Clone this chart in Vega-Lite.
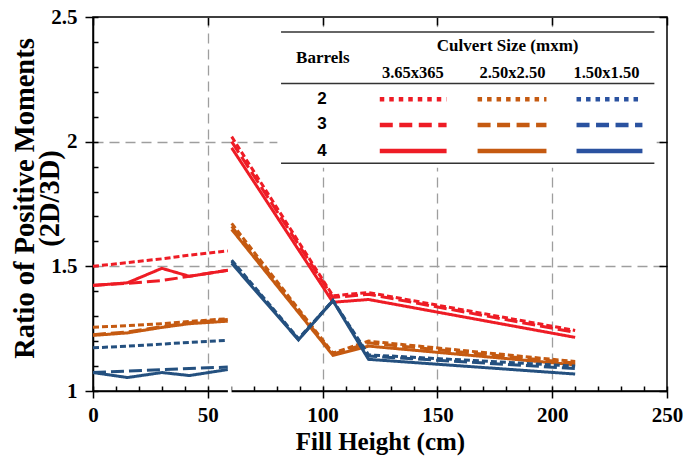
{
  "$schema": "https://vega.github.io/schema/vega-lite/v6.json",
  "width": 574,
  "height": 374,
  "autosize": {"type": "none"},
  "padding": {"left": 93, "top": 17, "right": 16, "bottom": 70},
  "background": "white",
  "config": {
    "view": {"stroke": "#000", "strokeWidth": 1.5},
    "axis": {
      "domainColor": "#000", "domainWidth": 1.5, "tickColor": "#000", "tickWidth": 1.5,
      "labelFont": "Liberation Serif", "labelFontWeight": "bold", "labelFontSize": 21, "labelColor": "#000",
      "titleFont": "Liberation Serif", "titleFontWeight": "bold", "titleColor": "#000",
      "labelFlush": false, "labelOverlap": false, "grid": false
    }
  },
  "datasets": {
    "series": [
      {"size": "3.65x365", "barrels": "2", "seg": "L", "fill_height": 0, "ratio": 1.50},
      {"size": "3.65x365", "barrels": "2", "seg": "L", "fill_height": 15, "ratio": 1.515},
      {"size": "3.65x365", "barrels": "2", "seg": "L", "fill_height": 30, "ratio": 1.53},
      {"size": "3.65x365", "barrels": "2", "seg": "L", "fill_height": 42, "ratio": 1.545},
      {"size": "3.65x365", "barrels": "2", "seg": "L", "fill_height": 58.7, "ratio": 1.562},
      {"size": "3.65x365", "barrels": "2", "seg": "R", "fill_height": 60.4, "ratio": 2.02},
      {"size": "3.65x365", "barrels": "2", "seg": "R", "fill_height": 104.5, "ratio": 1.382},
      {"size": "3.65x365", "barrels": "2", "seg": "R", "fill_height": 120, "ratio": 1.395},
      {"size": "3.65x365", "barrels": "2", "seg": "R", "fill_height": 210, "ratio": 1.243},
      {"size": "3.65x365", "barrels": "3", "seg": "L", "fill_height": 0, "ratio": 1.424},
      {"size": "3.65x365", "barrels": "3", "seg": "L", "fill_height": 15, "ratio": 1.432},
      {"size": "3.65x365", "barrels": "3", "seg": "L", "fill_height": 30, "ratio": 1.443},
      {"size": "3.65x365", "barrels": "3", "seg": "L", "fill_height": 42, "ratio": 1.46},
      {"size": "3.65x365", "barrels": "3", "seg": "L", "fill_height": 58.7, "ratio": 1.484},
      {"size": "3.65x365", "barrels": "3", "seg": "R", "fill_height": 60.4, "ratio": 2.0},
      {"size": "3.65x365", "barrels": "3", "seg": "R", "fill_height": 104.5, "ratio": 1.375},
      {"size": "3.65x365", "barrels": "3", "seg": "R", "fill_height": 120, "ratio": 1.388},
      {"size": "3.65x365", "barrels": "3", "seg": "R", "fill_height": 210, "ratio": 1.235},
      {"size": "3.65x365", "barrels": "4", "seg": "L", "fill_height": 0, "ratio": 1.423},
      {"size": "3.65x365", "barrels": "4", "seg": "L", "fill_height": 15, "ratio": 1.434},
      {"size": "3.65x365", "barrels": "4", "seg": "L", "fill_height": 30, "ratio": 1.492},
      {"size": "3.65x365", "barrels": "4", "seg": "L", "fill_height": 42, "ratio": 1.46},
      {"size": "3.65x365", "barrels": "4", "seg": "L", "fill_height": 58.7, "ratio": 1.484},
      {"size": "3.65x365", "barrels": "4", "seg": "R", "fill_height": 60.4, "ratio": 1.975},
      {"size": "3.65x365", "barrels": "4", "seg": "R", "fill_height": 104.5, "ratio": 1.356},
      {"size": "3.65x365", "barrels": "4", "seg": "R", "fill_height": 120, "ratio": 1.367},
      {"size": "3.65x365", "barrels": "4", "seg": "R", "fill_height": 210, "ratio": 1.215},
      {"size": "2.50x2.50", "barrels": "2", "seg": "L", "fill_height": 0, "ratio": 1.256},
      {"size": "2.50x2.50", "barrels": "2", "seg": "L", "fill_height": 15, "ratio": 1.262},
      {"size": "2.50x2.50", "barrels": "2", "seg": "L", "fill_height": 30, "ratio": 1.27},
      {"size": "2.50x2.50", "barrels": "2", "seg": "L", "fill_height": 42, "ratio": 1.279},
      {"size": "2.50x2.50", "barrels": "2", "seg": "L", "fill_height": 58.7, "ratio": 1.29},
      {"size": "2.50x2.50", "barrels": "2", "seg": "R", "fill_height": 60.4, "ratio": 1.672},
      {"size": "2.50x2.50", "barrels": "2", "seg": "R", "fill_height": 104.5, "ratio": 1.152},
      {"size": "2.50x2.50", "barrels": "2", "seg": "R", "fill_height": 120, "ratio": 1.2},
      {"size": "2.50x2.50", "barrels": "2", "seg": "R", "fill_height": 210, "ratio": 1.118},
      {"size": "2.50x2.50", "barrels": "3", "seg": "L", "fill_height": 0, "ratio": 1.226},
      {"size": "2.50x2.50", "barrels": "3", "seg": "L", "fill_height": 15, "ratio": 1.237},
      {"size": "2.50x2.50", "barrels": "3", "seg": "L", "fill_height": 30, "ratio": 1.258},
      {"size": "2.50x2.50", "barrels": "3", "seg": "L", "fill_height": 42, "ratio": 1.274},
      {"size": "2.50x2.50", "barrels": "3", "seg": "L", "fill_height": 58.7, "ratio": 1.287},
      {"size": "2.50x2.50", "barrels": "3", "seg": "R", "fill_height": 60.4, "ratio": 1.66},
      {"size": "2.50x2.50", "barrels": "3", "seg": "R", "fill_height": 104.5, "ratio": 1.148},
      {"size": "2.50x2.50", "barrels": "3", "seg": "R", "fill_height": 120, "ratio": 1.193},
      {"size": "2.50x2.50", "barrels": "3", "seg": "R", "fill_height": 210, "ratio": 1.112},
      {"size": "2.50x2.50", "barrels": "4", "seg": "L", "fill_height": 0, "ratio": 1.223},
      {"size": "2.50x2.50", "barrels": "4", "seg": "L", "fill_height": 15, "ratio": 1.233},
      {"size": "2.50x2.50", "barrels": "4", "seg": "L", "fill_height": 30, "ratio": 1.255},
      {"size": "2.50x2.50", "barrels": "4", "seg": "L", "fill_height": 42, "ratio": 1.27},
      {"size": "2.50x2.50", "barrels": "4", "seg": "L", "fill_height": 58.7, "ratio": 1.28},
      {"size": "2.50x2.50", "barrels": "4", "seg": "R", "fill_height": 60.4, "ratio": 1.648},
      {"size": "2.50x2.50", "barrels": "4", "seg": "R", "fill_height": 104.5, "ratio": 1.143},
      {"size": "2.50x2.50", "barrels": "4", "seg": "R", "fill_height": 120, "ratio": 1.18},
      {"size": "2.50x2.50", "barrels": "4", "seg": "R", "fill_height": 210, "ratio": 1.105},
      {"size": "1.50x1.50", "barrels": "2", "seg": "L", "fill_height": 0, "ratio": 1.173},
      {"size": "1.50x1.50", "barrels": "2", "seg": "L", "fill_height": 15, "ratio": 1.18},
      {"size": "1.50x1.50", "barrels": "2", "seg": "L", "fill_height": 30, "ratio": 1.188},
      {"size": "1.50x1.50", "barrels": "2", "seg": "L", "fill_height": 42, "ratio": 1.195},
      {"size": "1.50x1.50", "barrels": "2", "seg": "L", "fill_height": 58.7, "ratio": 1.203},
      {"size": "1.50x1.50", "barrels": "2", "seg": "R", "fill_height": 60.4, "ratio": 1.525},
      {"size": "1.50x1.50", "barrels": "2", "seg": "R", "fill_height": 89.5, "ratio": 1.21},
      {"size": "1.50x1.50", "barrels": "2", "seg": "R", "fill_height": 104.5, "ratio": 1.363},
      {"size": "1.50x1.50", "barrels": "2", "seg": "R", "fill_height": 120, "ratio": 1.145},
      {"size": "1.50x1.50", "barrels": "2", "seg": "R", "fill_height": 210, "ratio": 1.1},
      {"size": "1.50x1.50", "barrels": "3", "seg": "L", "fill_height": 0, "ratio": 1.074},
      {"size": "1.50x1.50", "barrels": "3", "seg": "L", "fill_height": 15, "ratio": 1.08},
      {"size": "1.50x1.50", "barrels": "3", "seg": "L", "fill_height": 30, "ratio": 1.086},
      {"size": "1.50x1.50", "barrels": "3", "seg": "L", "fill_height": 42, "ratio": 1.09},
      {"size": "1.50x1.50", "barrels": "3", "seg": "L", "fill_height": 58.7, "ratio": 1.096},
      {"size": "1.50x1.50", "barrels": "3", "seg": "R", "fill_height": 60.4, "ratio": 1.52},
      {"size": "1.50x1.50", "barrels": "3", "seg": "R", "fill_height": 89.5, "ratio": 1.207},
      {"size": "1.50x1.50", "barrels": "3", "seg": "R", "fill_height": 104.5, "ratio": 1.362},
      {"size": "1.50x1.50", "barrels": "3", "seg": "R", "fill_height": 120, "ratio": 1.14},
      {"size": "1.50x1.50", "barrels": "3", "seg": "R", "fill_height": 210, "ratio": 1.09},
      {"size": "1.50x1.50", "barrels": "4", "seg": "L", "fill_height": 0, "ratio": 1.074},
      {"size": "1.50x1.50", "barrels": "4", "seg": "L", "fill_height": 15, "ratio": 1.054},
      {"size": "1.50x1.50", "barrels": "4", "seg": "L", "fill_height": 30, "ratio": 1.074},
      {"size": "1.50x1.50", "barrels": "4", "seg": "L", "fill_height": 42, "ratio": 1.062},
      {"size": "1.50x1.50", "barrels": "4", "seg": "L", "fill_height": 58.7, "ratio": 1.086},
      {"size": "1.50x1.50", "barrels": "4", "seg": "R", "fill_height": 60.4, "ratio": 1.512},
      {"size": "1.50x1.50", "barrels": "4", "seg": "R", "fill_height": 89.5, "ratio": 1.205},
      {"size": "1.50x1.50", "barrels": "4", "seg": "R", "fill_height": 104.5, "ratio": 1.362},
      {"size": "1.50x1.50", "barrels": "4", "seg": "R", "fill_height": 120, "ratio": 1.127},
      {"size": "1.50x1.50", "barrels": "4", "seg": "R", "fill_height": 210, "ratio": 1.068}
    ]
  },
  "resolve": {"axis": {"x": "independent", "y": "independent"}},
  "layer": [
    {
      "layer": [
        {
          "data": {"name": "series"},
          "transform": [{"filter": "datum.size === '2.50x2.50'"}],
          "mark": {"type": "line", "strokeWidth": 3, "strokeCap": "butt", "color": "#C55A11"},
          "encoding": {
            "x": {"field": "fill_height", "type": "quantitative", "scale": {"domain": [0, 250], "nice": false, "zero": false},
              "axis": {"orient": "bottom", "values": [0, 50, 100, 150, 200, 250], "title": "Fill Height (cm)", "titleFontSize": 25, "titlePadding": 4,
                "tickSize": 7, "labelPadding": 6, "grid": true, "gridDash": [10, 6], "gridColor": "#9E9E9E", "gridWidth": 1.3,
                "gridOpacity": {"condition": {"test": "datum.value == 0 || datum.value == 250", "value": 0}, "value": 1}}},
            "y": {"field": "ratio", "type": "quantitative", "scale": {"domain": [1, 2.5], "nice": false, "zero": false},
              "axis": {"orient": "left", "values": [1, 1.5, 2, 2.5], "format": "~g", "title": ["Ratio of Positive Moments", "(2D/3D)"],
                "titleFontSize": 28.5, "titleLineHeight": 25, "titleBaseline": "middle", "titleX": -69, "titleY": 181, "titleAngle": -90,
                "tickSize": 8, "labelPadding": 8, "grid": true, "gridDash": [10, 6], "gridColor": "#9E9E9E", "gridWidth": 1.3,
                "gridOpacity": {"condition": {"test": "datum.value == 1 || datum.value == 2.5", "value": 0}, "value": 1}}},
            "strokeDash": {"field": "barrels", "type": "nominal", "scale": {"domain": ["2", "3", "4"], "range": [[6, 3], [13, 5], [1, 0]]}, "legend": null},
            "detail": {"field": "seg"}
          }
        },
        {
          "data": {"values": [{"part": "legend box"}]},
          "mark": {"type": "rect", "fill": "white"},
          "encoding": {"x": {"datum": 80.3}, "x2": {"datum": 245.5}, "y": {"datum": 2.459}, "y2": {"datum": 1.895}}
        },
        {
          "data": {"values": [{"part": "top rule"}]},
          "mark": {"type": "rule", "color": "#333", "strokeWidth": 1.5},
          "encoding": {"x": {"datum": 81.9}, "x2": {"datum": 244.5}, "y": {"datum": 2.44}}
        },
        {
          "data": {"values": [{"part": "header rule"}]},
          "mark": {"type": "rule", "color": "#333", "strokeWidth": 1.5},
          "encoding": {"x": {"datum": 81.9}, "x2": {"datum": 244.5}, "y": {"datum": 2.233}}
        },
        {
          "data": {"values": [{"part": "bottom rule"}]},
          "mark": {"type": "rule", "color": "#333", "strokeWidth": 1.5},
          "encoding": {"x": {"datum": 81.9}, "x2": {"datum": 244.5}, "y": {"datum": 1.913}}
        },
        {
          "data": {"values": [{"label": "Barrels"}]},
          "mark": {"type": "text", "font": "Liberation Serif", "fontWeight": "bold", "fontSize": 17, "baseline": "middle", "align": "center", "color": "#000"},
          "encoding": {"x": {"datum": 100.1}, "y": {"datum": 2.335}, "text": {"field": "label"}}
        },
        {
          "data": {"values": [{"label": "Culvert Size (mxm)"}]},
          "mark": {"type": "text", "font": "Liberation Serif", "fontWeight": "bold", "fontSize": 17, "baseline": "middle", "align": "center", "color": "#000"},
          "encoding": {"x": {"datum": 180.6}, "y": {"datum": 2.383}, "text": {"field": "label"}}
        },
        {
          "data": {"values": [{"label": "3.65x365"}]},
          "mark": {"type": "text", "font": "Liberation Serif", "fontWeight": "bold", "fontSize": 16.5, "baseline": "middle", "align": "center", "color": "#000"},
          "encoding": {"x": {"datum": 139.3}, "y": {"datum": 2.275}, "text": {"field": "label"}}
        },
        {
          "data": {"values": [{"label": "2.50x2.50"}]},
          "mark": {"type": "text", "font": "Liberation Serif", "fontWeight": "bold", "fontSize": 16.5, "baseline": "middle", "align": "center", "color": "#000"},
          "encoding": {"x": {"datum": 182.7}, "y": {"datum": 2.275}, "text": {"field": "label"}}
        },
        {
          "data": {"values": [{"label": "1.50x1.50"}]},
          "mark": {"type": "text", "font": "Liberation Serif", "fontWeight": "bold", "fontSize": 16.5, "baseline": "middle", "align": "center", "color": "#000"},
          "encoding": {"x": {"datum": 223.6}, "y": {"datum": 2.275}, "text": {"field": "label"}}
        },
        {
          "data": {"values": [{"label": "2"}]},
          "mark": {"type": "text", "font": "Liberation Sans", "fontWeight": "bold", "fontSize": 17, "baseline": "middle", "align": "center", "color": "#000"},
          "encoding": {"x": {"datum": 99.7}, "y": {"datum": 2.171}, "text": {"field": "label"}}
        },
        {
          "data": {"values": [{"label": "3"}]},
          "mark": {"type": "text", "font": "Liberation Sans", "fontWeight": "bold", "fontSize": 17, "baseline": "middle", "align": "center", "color": "#000"},
          "encoding": {"x": {"datum": 99.7}, "y": {"datum": 2.069}, "text": {"field": "label"}}
        },
        {
          "data": {"values": [{"label": "4"}]},
          "mark": {"type": "text", "font": "Liberation Sans", "fontWeight": "bold", "fontSize": 17, "baseline": "middle", "align": "center", "color": "#000"},
          "encoding": {"x": {"datum": 99.7}, "y": {"datum": 1.963}, "text": {"field": "label"}}
        },
        {
          "data": {"values": [{"barrels": "2", "size": "3.65x365"}]},
          "mark": {"type": "rule", "color": "#EE1C25", "strokeWidth": 4.5, "strokeDash": [4.5, 5], "strokeCap": "butt"},
          "encoding": {"x": {"datum": 124.9}, "x2": {"datum": 154.0}, "y": {"datum": 2.17}}
        },
        {
          "data": {"values": [{"barrels": "3", "size": "3.65x365"}]},
          "mark": {"type": "rule", "color": "#EE1C25", "strokeWidth": 4.5, "strokeDash": [13, 6.5], "strokeCap": "butt"},
          "encoding": {"x": {"datum": 124.9}, "x2": {"datum": 154.0}, "y": {"datum": 2.067}}
        },
        {
          "data": {"values": [{"barrels": "4", "size": "3.65x365"}]},
          "mark": {"type": "rule", "color": "#EE1C25", "strokeWidth": 4.5, "strokeCap": "butt"},
          "encoding": {"x": {"datum": 124.9}, "x2": {"datum": 154.0}, "y": {"datum": 1.963}}
        },
        {
          "data": {"values": [{"barrels": "2", "size": "2.50x2.50"}]},
          "mark": {"type": "rule", "color": "#C55A11", "strokeWidth": 4.5, "strokeDash": [4.5, 5], "strokeCap": "butt"},
          "encoding": {"x": {"datum": 167.5}, "x2": {"datum": 197.5}, "y": {"datum": 2.17}}
        },
        {
          "data": {"values": [{"barrels": "3", "size": "2.50x2.50"}]},
          "mark": {"type": "rule", "color": "#C55A11", "strokeWidth": 4.5, "strokeDash": [13, 6.5], "strokeCap": "butt"},
          "encoding": {"x": {"datum": 167.5}, "x2": {"datum": 197.5}, "y": {"datum": 2.067}}
        },
        {
          "data": {"values": [{"barrels": "4", "size": "2.50x2.50"}]},
          "mark": {"type": "rule", "color": "#C55A11", "strokeWidth": 4.5, "strokeCap": "butt"},
          "encoding": {"x": {"datum": 167.5}, "x2": {"datum": 197.5}, "y": {"datum": 1.963}}
        },
        {
          "data": {"values": [{"barrels": "2", "size": "1.50x1.50"}]},
          "mark": {"type": "rule", "color": "#2A52A0", "strokeWidth": 4.5, "strokeDash": [4.5, 5], "strokeCap": "butt"},
          "encoding": {"x": {"datum": 210.6}, "x2": {"datum": 239.3}, "y": {"datum": 2.17}}
        },
        {
          "data": {"values": [{"barrels": "3", "size": "1.50x1.50"}]},
          "mark": {"type": "rule", "color": "#2A52A0", "strokeWidth": 4.5, "strokeDash": [13, 6.5], "strokeCap": "butt"},
          "encoding": {"x": {"datum": 210.6}, "x2": {"datum": 239.3}, "y": {"datum": 2.067}}
        },
        {
          "data": {"values": [{"barrels": "4", "size": "1.50x1.50"}]},
          "mark": {"type": "rule", "color": "#2A52A0", "strokeWidth": 4.5, "strokeCap": "butt"},
          "encoding": {"x": {"datum": 210.6}, "x2": {"datum": 239.3}, "y": {"datum": 1.963}}
        },
        {
          "data": {"values": [{"part": "axis break"}]},
          "mark": {"type": "rule", "color": "white", "strokeWidth": 12, "strokeCap": "butt"},
          "encoding": {"x": {"datum": 58.75}, "x2": {"datum": 60.35}, "y": {"datum": 1}}
        }
      ]
    },
    {
      "data": {"name": "series"},
      "transform": [{"filter": "datum.size === '3.65x365'"}],
      "mark": {"type": "line", "strokeWidth": 3, "strokeCap": "butt", "color": "#EE1C25"},
      "encoding": {
        "x": {"field": "fill_height", "type": "quantitative", "scale": {"domain": [0, 250], "nice": false, "zero": false},
          "axis": {"orient": "top", "values": [0, 50, 100, 150, 200, 250], "tickSize": -8, "labels": false, "domain": false, "grid": false, "title": null}},
        "y": {"field": "ratio", "type": "quantitative", "scale": {"domain": [1, 2.5], "nice": false, "zero": false},
          "axis": {"orient": "right", "values": [1, 1.5, 2, 2.5], "tickSize": -8, "labels": false, "domain": false, "grid": false, "title": null}},
        "strokeDash": {"field": "barrels", "type": "nominal", "scale": {"domain": ["2", "3", "4"], "range": [[6, 3], [13, 5], [1, 0]]}, "legend": null},
        "detail": {"field": "seg"}
      }
    },
    {
      "data": {"name": "series"},
      "transform": [{"filter": "datum.size === '1.50x1.50'"}],
      "mark": {"type": "line", "strokeWidth": 3, "strokeCap": "butt", "color": "#24507F"},
      "encoding": {
        "x": {"field": "fill_height", "type": "quantitative", "scale": {"domain": [0, 250], "nice": false, "zero": false},
          "axis": {"orient": "bottom", "values": [0, 10, 20, 30, 40, 50, 60, 70, 80, 90, 100, 110, 120, 130, 140, 150, 160, 170, 180, 190, 200, 210, 220, 230, 240, 250],
            "tickSize": -5, "labels": false, "domain": false, "grid": false, "title": null}},
        "y": {"field": "ratio", "type": "quantitative", "scale": {"domain": [1, 2.5], "nice": false, "zero": false},
          "axis": {"orient": "left", "values": [1, 1.1, 1.2, 1.3, 1.4, 1.5, 1.6, 1.7, 1.8, 1.9, 2, 2.1, 2.2, 2.3, 2.4, 2.5],
            "tickSize": -5, "labels": false, "domain": false, "grid": false, "title": null}},
        "strokeDash": {"field": "barrels", "type": "nominal", "scale": {"domain": ["2", "3", "4"], "range": [[6, 3], [13, 5], [1, 0]]}, "legend": null},
        "detail": {"field": "seg"}
      }
    }
  ]
}
